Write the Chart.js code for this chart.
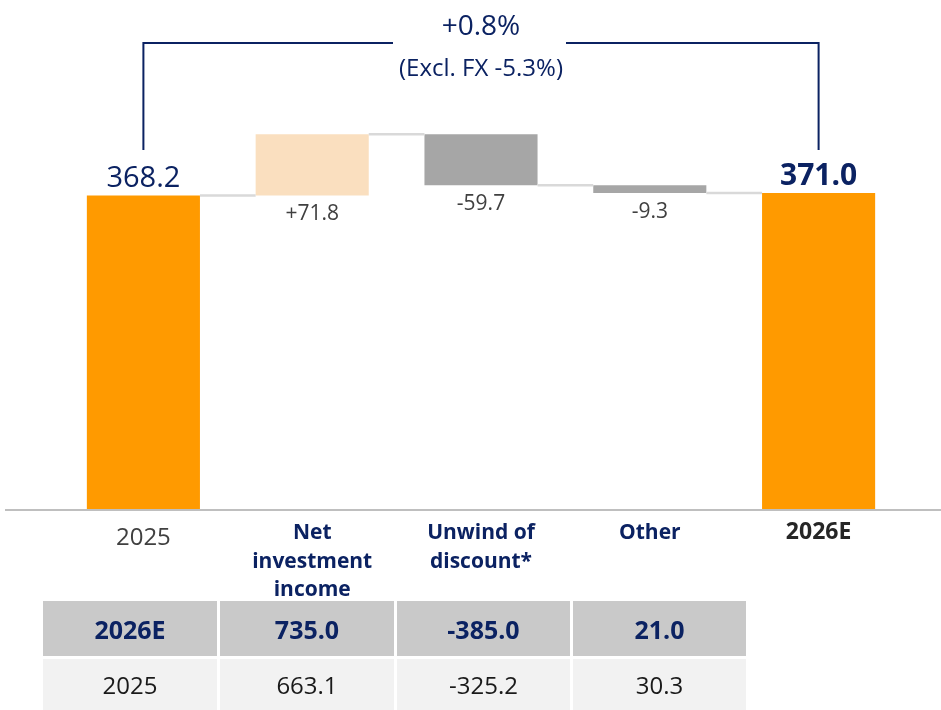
<!DOCTYPE html>
<html>
<head>
<meta charset="utf-8">
<script src="https://cdn.jsdelivr.net/npm/chart.js@4.4.1/dist/chart.umd.min.js"></script>
<style>
  html, body { margin: 0; padding: 0; background: #fff; }
  #wrap { position: relative; width: 941px; height: 710px; overflow: hidden; }
  canvas { position: absolute; left: 0; top: 0; }
  #tbl { position: absolute; left: 43px; top: 601px; border-collapse: separate; border-spacing: 0; font-family: "Open Sans", sans-serif; }
  #tbl td { text-align: center; padding: 0; }
</style>
</head>
<body>
<div id="wrap">
  <canvas id="c" width="941" height="710"></canvas>
  <div id="tblbox"></div>
</div>
<script>
// ---- data ----
const categories = [["2025"], ["Net", "investment", "income"], ["Unwind of", "discount*"], ["Other"], ["2026E"]];
const startTotal = 368.2;
const deltas = [71.8, -59.7, -9.3];
const endTotal = 371.0;
const valueLabels = ["368.2", "+71.8", "-59.7", "-9.3", "371.0"];
const growthLabel = "+0.8%";
const growthSubLabel = "(Excl. FX -5.3%)";
const tableRowLabels = ["2026E", "2025"];
const tableNII = [735.0, 663.1];
const tableUnwind = [-385.0, -325.2];
const tableOther = [21.0, 30.3];

const NAVY = "#0b2262";
const ORANGE = "#ff9a00";
const PEACH = "#fadfbf";
const GREY = "#a6a6a6";

// floating bar ranges built from the data
const ranges = [];
ranges.push([0, startTotal]);
let run = startTotal;
for (const d of deltas) { const nxt = +(run + d).toFixed(1); ranges.push([Math.min(run, nxt), Math.max(run, nxt)]); run = nxt; }
ranges.push([0, endTotal]);
const levels = [startTotal];
run = startTotal;
for (const d of deltas) { run = +(run + d).toFixed(1); levels.push(run); }
levels.push(endTotal);
const colors = [ORANGE].concat(deltas.map(d => d >= 0 ? PEACH : GREY)).concat([ORANGE]);

// ---- table ----
(function buildTable() {
  const cols = [tableRowLabels, tableNII.map(v => v.toFixed(1)), tableUnwind.map(v => v.toFixed(1)), tableOther.map(v => v.toFixed(1))];
  const widths = [174, 174, 173, 173];
  let html = '<table id="tbl">';
  for (let r = 0; r < 2; r++) {
    html += '<tr>';
    for (let c = 0; c < cols.length; c++) {
      const bg = r === 0 ? '#c9c9c9' : '#f2f2f2';
      const st = r === 0 ? 'font-weight:bold;font-size:25px;color:' + NAVY + ';height:55px;' : 'font-size:24px;color:#1a1a1a;height:51px;';
      const bl = c > 0 ? 'border-left:3px solid #fff;' : '';
      const bt = r > 0 ? 'border-top:3px solid #fff;' : '';
      html += '<td style="background:' + bg + ';width:' + widths[c] + 'px;' + st + bl + bt + '">' + cols[c][r] + '</td>';
    }
    html += '</tr>';
  }
  html += '</table>';
  document.getElementById('tblbox').innerHTML = html;
})();

// ---- plugin for connectors, labels, bracket, baseline ----
const deco = {
  id: 'deco',
  afterDatasetsDraw(chart) {
    const ctx = chart.ctx;
    const meta = chart.getDatasetMeta(0);
    const y = chart.scales.y;
    const bars = meta.data;
    ctx.save();
    // baseline
    ctx.strokeStyle = '#bfbfbf';
    ctx.lineWidth = 2;
    ctx.beginPath();
    ctx.moveTo(5, y.getPixelForValue(0));
    ctx.lineTo(941, y.getPixelForValue(0));
    ctx.stroke();
    // connectors
    ctx.strokeStyle = '#d9d9d9';
    ctx.lineWidth = 2.5;
    for (let i = 0; i < bars.length - 1; i++) {
      const a = bars[i], b = bars[i + 1];
      const py = y.getPixelForValue(levels[i]);
      ctx.beginPath();
      ctx.moveTo(a.x + a.width / 2, py);
      ctx.lineTo(b.x - b.width / 2, py);
      ctx.stroke();
    }
    // value labels
    ctx.textAlign = 'center';
    ctx.textBaseline = 'alphabetic';
    for (let i = 0; i < bars.length; i++) {
      const bar = bars[i];
      if (i === 0 || i === bars.length - 1) {
        ctx.fillStyle = NAVY;
        ctx.font = (i === 0 ? '29px ' : 'bold 30px ') + '"Open Sans", sans-serif';
        ctx.fillText(valueLabels[i], bar.x, y.getPixelForValue(ranges[i][1]) - 8);
      } else {
        ctx.fillStyle = '#404040';
        ctx.font = '21px "Open Sans", sans-serif';
        ctx.fillText(valueLabels[i], bar.x, y.getPixelForValue(ranges[i][0]) + 25);
      }
    }
    // bracket
    const x0 = bars[0].x, x1 = bars[bars.length - 1].x;
    const xm = (x0 + x1) / 2;
    const topY = 43, botY = 150;
    ctx.strokeStyle = NAVY;
    ctx.lineWidth = 2;
    ctx.beginPath();
    ctx.moveTo(x0, botY); ctx.lineTo(x0, topY); ctx.lineTo(xm - 88, topY);
    ctx.moveTo(xm + 85, topY); ctx.lineTo(x1, topY); ctx.lineTo(x1, botY);
    ctx.stroke();
    ctx.fillStyle = NAVY;
    ctx.font = '28px "Open Sans", sans-serif';
    ctx.fillText(growthLabel, xm, 35);
    ctx.font = '24px "Open Sans", sans-serif';
    ctx.fillText(growthSubLabel, xm, 76);
    ctx.restore();
  }
};

new Chart(document.getElementById('c'), {
  type: 'bar',
  data: {
    labels: categories,
    datasets: [{
      data: ranges,
      backgroundColor: colors,
      borderWidth: 0,
      barPercentage: 0.67,
      categoryPercentage: 1.0
    }]
  },
  options: {
    responsive: false,
    animation: false,
    layout: { padding: { left: 59, right: 38, top: 100, bottom: 0 } },
    plugins: { legend: { display: false }, tooltip: { enabled: false } },
    scales: {
      y: { display: false, min: 0, max: 480 },
      x: {
        grid: { display: false, drawTicks: false },
        border: { display: false },
        afterFit(scale) { scale.height = 200; },
        ticks: {
          padding: 9,
          maxRotation: 0,
          autoSkip: false,
          color(ctx) {
            const i = ctx.index;
            if (i === 0) return '#404040';
            if (i === 4) return '#262626';
            return NAVY;
          },
          font(ctx) {
            const i = ctx.index;
            if (i === 0) return { family: '"Open Sans", sans-serif', size: 24, weight: 'normal', lineHeight: 1.6 };
            if (i === 4) return { family: '"Open Sans", sans-serif', size: 23, weight: 'bold', lineHeight: 1.2 };
            return { family: '"Open Sans", sans-serif', size: 21, weight: 'bold', lineHeight: 1.35 };
          }
        }
      }
    }
  },
  plugins: [deco]
});
</script>
</body>
</html>
